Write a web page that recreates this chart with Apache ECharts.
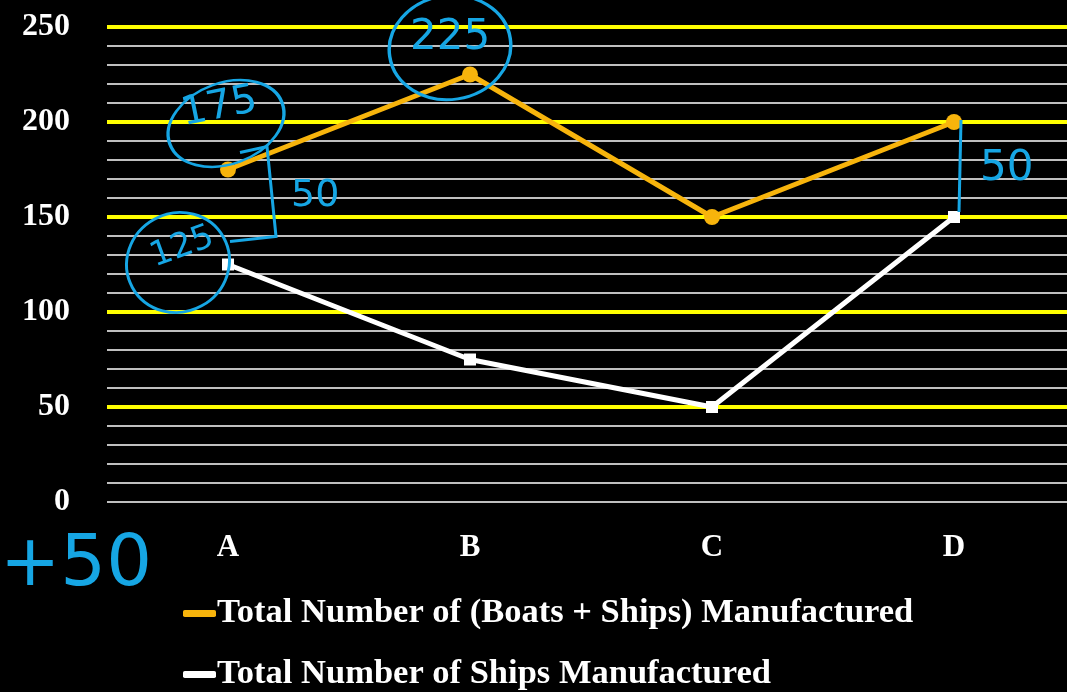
<!DOCTYPE html>
<html>
<head>
<meta charset="utf-8">
<script src="https://cdn.jsdelivr.net/npm/echarts@6/dist/echarts.min.js"></script>
<style>
html,body{margin:0;padding:0;background:#000;}
#main{width:1067px;height:692px;}
</style>
</head>
<body>
<div id="main"></div>
<script>
const categories = ['A', 'B', 'C', 'D'];
const totalBoatsShips = [175, 225, 150, 200];
const totalShips = [125, 75, 50, 150];
const seriesNames = ['Total Number of (Boats + Ships) Manufactured', 'Total Number of Ships Manufactured'];
const yMin = 0, yMax = 250, minorStep = 10, majorStep = 50;
const annotationTexts = { a1: '175', b1: '225', a2: '125', gapA: '50', gapD: '50', side: '+50' };

const serif = '"Liberation Serif", "Times New Roman", serif';
const orange = '#f7b40c';
const blue = '#16a6e4';

const chart = echarts.init(document.getElementById('main'));
chart.setOption({
  backgroundColor: '#000',
  animation: false,
  grid: { left: 107, right: -8, top: 27, bottom: 190, containLabel: false, outerBoundsMode: 'none' },
  legend: {
    data: seriesNames,
    orient: 'vertical',
    left: 183, top: 596,
    itemWidth: 33, itemHeight: 7, itemGap: 26,
    icon: 'roundRect',
    padding: 0,
    textStyle: { color: '#fff', fontFamily: serif, fontWeight: 'bold', fontSize: 34.5, padding: [0, 0, 0, -4] }
  },
  xAxis: {
    type: 'category', data: categories, boundaryGap: true,
    axisLine: { show: false }, axisTick: { show: false },
    axisLabel: { color: '#fff', fontFamily: serif, fontWeight: 'bold', fontSize: 31, margin: 30 }
  },
  yAxis: [
    {
      type: 'value', min: yMin, max: yMax, interval: minorStep,
      axisLine: { show: false }, axisTick: { show: false }, axisLabel: { show: false },
      splitLine: { show: true, lineStyle: { color: '#bfbfbf', width: 2 } }
    },
    {
      type: 'value', min: yMin, max: yMax, interval: majorStep, position: 'left',
      axisLine: { show: false }, axisTick: { show: false },
      axisLabel: { color: '#fff', fontFamily: serif, fontWeight: 'bold', fontSize: 32, margin: 37, padding: [0, 0, 12, 0] },
      splitLine: { show: true, showMinLine: false, lineStyle: { color: '#ffff00', width: 4 } }
    }
  ],
  series: [
    {
      name: seriesNames[0], type: 'line', data: totalBoatsShips, yAxisIndex: 1,
      color: orange, lineStyle: { color: orange, width: 5 },
      symbol: 'circle', symbolSize: 16, itemStyle: { color: orange }, z: 3
    },
    {
      name: seriesNames[1], type: 'line', data: totalShips, yAxisIndex: 1,
      color: '#fff', lineStyle: { color: '#fff', width: 5 },
      symbol: 'rect', symbolSize: 12, itemStyle: { color: '#fff' }, z: 3
    }
  ]
});

// Hand-drawn style annotations anchored to data points
function px(cat, val) { return chart.convertToPixel({ xAxisIndex: 0, yAxisIndex: 1 }, [cat, val]); }
const pA1 = px('A', totalBoatsShips[0]);
const pA2 = px('A', totalShips[0]);
const pB1 = px('B', totalBoatsShips[1]);
const pD1 = px('D', totalBoatsShips[3]);
const pD2 = px('D', totalShips[3]);
const stroke = { fill: 'none', stroke: blue, lineWidth: 3 };
const hand = { fill: blue, fontFamily: '"DejaVu Sans", sans-serif', fontWeight: 'normal' };

chart.setOption({
  graphic: [
    { type: 'circle', x: pA1[0] - 2, y: pA1[1] - 46, scaleX: 1.15, scaleY: 0.78, rotation: 0.35, shape: { cx: 0, cy: 0, r: 52 }, style: stroke, z: 10 },
    { type: 'text', x: pA1[0] - 50, y: pA1[1] - 74, rotation: 0.2, style: Object.assign({ text: annotationTexts.a1, fontSize: 40 }, hand), z: 10 },
    { type: 'circle', x: pB1[0] - 20, y: pB1[1] - 27, scaleX: 1.15, scaleY: 0.98, rotation: 0.15, shape: { cx: 0, cy: 0, r: 53 }, style: stroke, z: 10 },
    { type: 'text', x: pB1[0] - 60, y: pB1[1] - 57, style: Object.assign({ text: annotationTexts.b1, fontSize: 42 }, hand), z: 10 },
    { type: 'circle', x: pA2[0] - 50, y: pA2[1] - 2, scaleX: 1.0, scaleY: 0.95, rotation: 0.5, shape: { cx: 0, cy: 0, r: 52 }, style: stroke, z: 10 },
    { type: 'text', x: pA2[0] - 82, y: pA2[1] - 22, rotation: 0.35, style: Object.assign({ text: annotationTexts.a2, fontSize: 34 }, hand), z: 10 },
    { type: 'polyline', shape: { points: [[pA1[0] + 12, pA1[1] - 17], [pA1[0] + 39, pA1[1] - 23], [pA1[0] + 48, pA1[1] + 67], [pA1[0] + 2, pA1[1] + 72]] }, style: stroke, z: 10 },
    { type: 'text', x: pA1[0] + 63, y: pA1[1] + 8, style: Object.assign({ text: annotationTexts.gapA, fontSize: 38 }, hand), z: 10 },
    { type: 'line', shape: { x1: pD1[0] + 7, y1: pD1[1] - 2, x2: pD1[0] + 5, y2: pD2[1] - 5 }, style: stroke, z: 10 },
    { type: 'text', x: pD1[0] + 26, y: pD1[1] + 26, style: Object.assign({ text: annotationTexts.gapD, fontSize: 42 }, hand), z: 10 },
    { type: 'text', x: 0, y: 530, style: Object.assign({ text: annotationTexts.side, fontSize: 72 }, hand), z: 10 }
  ]
});
</script>
</body>
</html>
